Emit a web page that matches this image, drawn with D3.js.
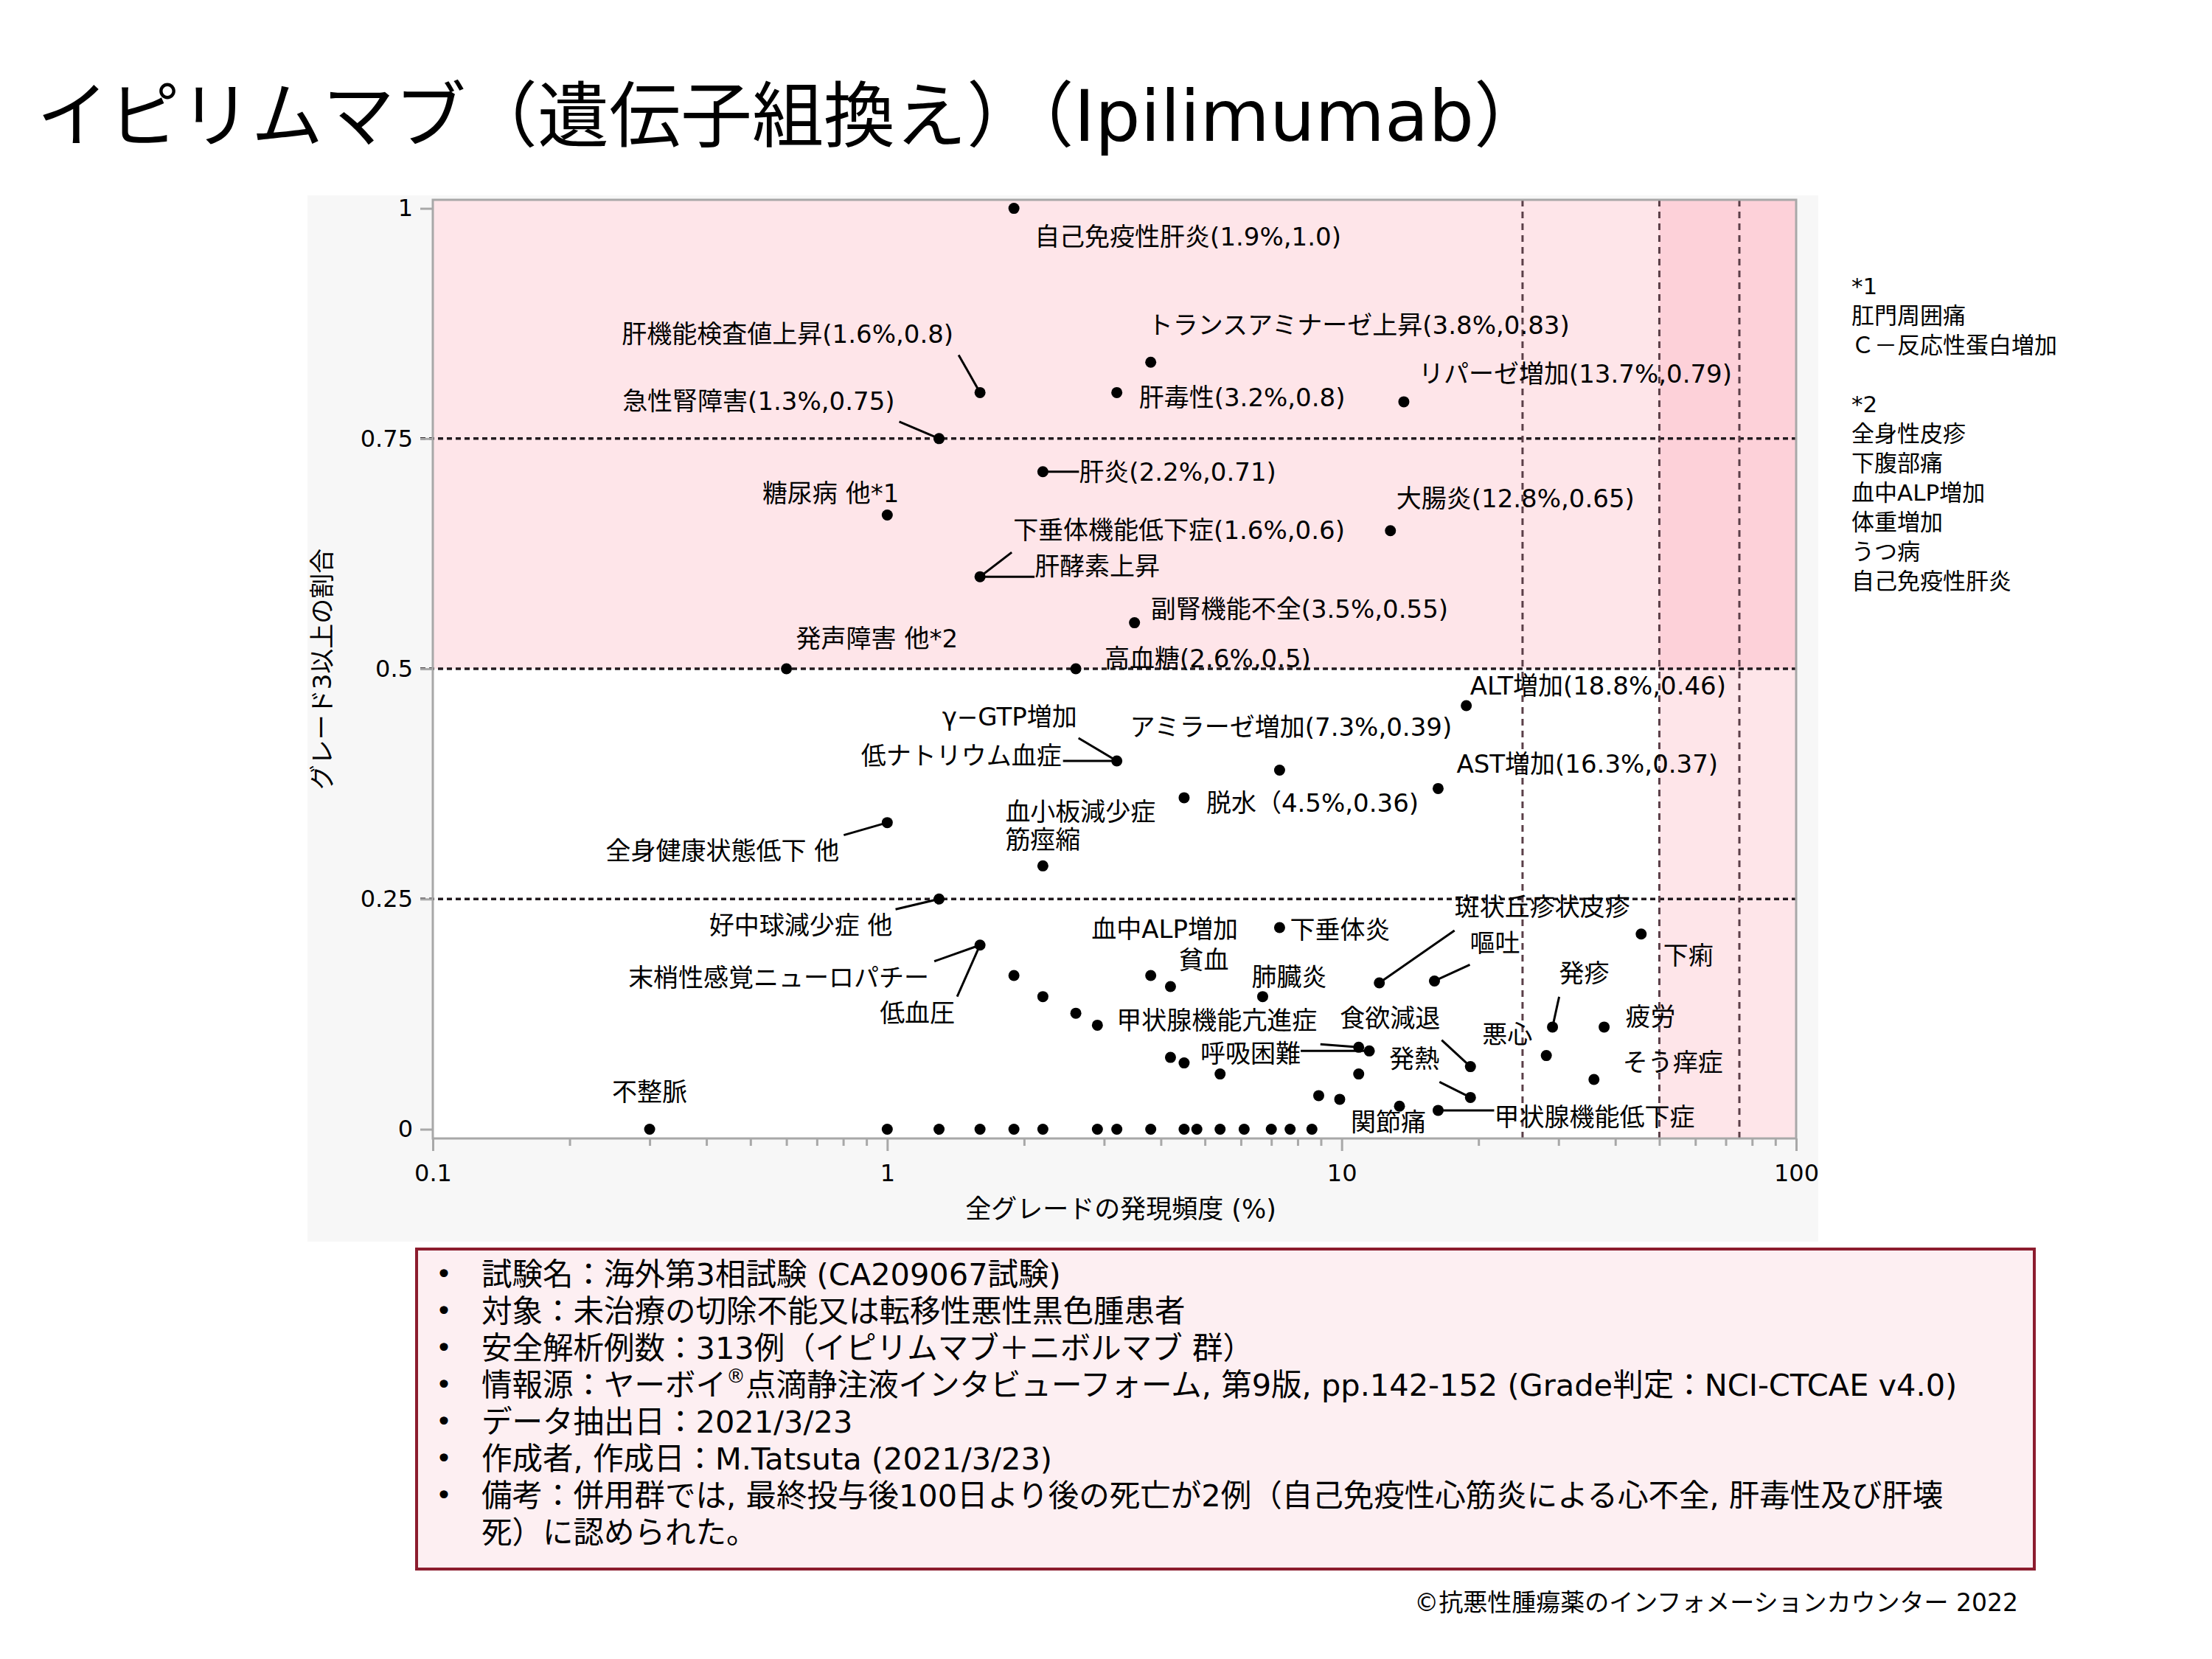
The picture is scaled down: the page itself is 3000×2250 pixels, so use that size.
<!DOCTYPE html>
<html>
<head>
<meta charset="utf-8">
<script src="https://cdn.jsdelivr.net/npm/d3@7"></script>
<style>
body { margin: 0; background: #fff; }
text { font-family: "DejaVu Sans", "Noto Sans CJK JP", sans-serif; fill: #000; }
</style>
</head>
<body>
<svg id="chart" width="3000" height="2250"></svg>
<script>
// ---- data: all-grade incidence (%) and ratio of grade>=3 ----
var incidence = [1.9, 1.6, 1.3, 2.2, 1.0, 1.6, 0.6, 2.6, 3.8, 3.2,
                 13.7, 12.8, 3.5, 18.8, 7.3, 16.3, 4.5, 3.2, 2.2, 1.0,
                 1.3, 1.6, 0.3, 3.8, 7.3, 4.2, 6.7, 12.1, 16.0, 45.6,
                 29.1, 2.9, 19.2, 28.2, 37.8, 11.5, 10.9, 19.2, 35.9, 13.4,
                 16.3, 1.9, 2.2, 2.6, 4.2, 4.5, 5.4, 10.9, 8.9, 9.9];
var g3ratio   = [1.0, 0.8, 0.75, 0.714, 0.667, 0.6, 0.5, 0.5, 0.833, 0.8,
                 0.79, 0.65, 0.55, 0.46, 0.39, 0.37, 0.36, 0.4, 0.286, 0.333,
                 0.25, 0.2, 0, 0.167, 0.219, 0.155, 0.144, 0.159, 0.161, 0.212,
                 0.111, 0.113, 0.068, 0.08, 0.111, 0.085, 0.089, 0.0345, 0.054, 0.025,
                 0.0205, 0.167, 0.144, 0.126, 0.078, 0.072, 0.06, 0.06, 0.0365, 0.0325];
// events with no grade>=3 case
var zeroRowIncidence = [1.0, 1.3, 1.6, 1.9, 2.2, 2.9, 3.2, 3.8, 4.5, 4.8, 5.4, 6.1, 7.0, 7.7, 8.6];

var yTicks = [0, 0.25, 0.5, 0.75, 1];
var xTicks = [0.1, 1, 10, 100];
var refY = [0.25, 0.5, 0.75];
var refX = [25, 50, 75];

var title = "イピリムマブ（遺伝子組換え）（Ipilimumab）";
var xTitle = "全グレードの発現頻度 (%)";
var yTitle = "グレード3以上の割合";
var footNotes = ["*1", "肛門周囲痛", "Ｃ－反応性蛋白増加", "", "*2", "全身性皮疹", "下腹部痛",
                 "血中ALP増加", "体重増加", "うつ病", "自己免疫性肝炎"];
var infoLines = ["試験名：海外第3相試験 (CA209067試験)",
                 "対象：未治療の切除不能又は転移性悪性黒色腫患者",
                 "安全解析例数：313例（イピリムマブ＋ニボルマブ 群）",
                 "情報源：ヤーボイ®点滴静注液インタビューフォーム, 第9版, pp.142-152 (Grade判定：NCI-CTCAE v4.0)",
                 "データ抽出日：2021/3/23",
                 "作成者, 作成日：M.Tatsuta (2021/3/23)",
                 "備考：併用群では, 最終投与後100日より後の死亡が2例（自己免疫性心筋炎による心不全, 肝毒性及び肝壊",
                 "死）に認められた。"];
var copyright = "©抗悪性腫瘍薬のインフォメーションカウンター 2022";

// label layout: p = point index, dx/dy offset from point (px), a = anchor, l = leader start
var labels = [
    {t: "自己免疫性肝炎(1.9%,1.0)", p: 0, dx: 28, dy: 38, a: "start"},
    {t: "肝機能検査値上昇(1.6%,0.8)", p: 1, dx: -36, dy: -79, a: "end", l: [-29, -51]},
    {t: "急性腎障害(1.3%,0.75)", p: 2, dx: -60, dy: -51, a: "end", l: [-54, -23]},
    {t: "肝炎(2.2%,0.71)", p: 3, dx: 49, dy: 0, a: "start", l: [49, 0]},
    {t: "糖尿病 他*1", p: 4, dx: 16, dy: -29, a: "end"},
    {t: "下垂体機能低下症(1.6%,0.6)", p: 5, dx: 45, dy: -63, a: "start", l: [43, -33]},
    {t: "肝酵素上昇", p: 5, dx: 74, dy: -14, a: "start", l: [74, 0]},
    {t: "発声障害 他*2", p: 6, dx: 13, dy: -41, a: "start"},
    {t: "高血糖(2.6%,0.5)", p: 7, dx: 39, dy: -14, a: "start"},
    {t: "トランスアミナーゼ上昇(3.8%,0.83)", p: 8, dx: -4, dy: -50, a: "start"},
    {t: "肝毒性(3.2%,0.8)", p: 9, dx: 30, dy: 7, a: "start"},
    {t: "リパーゼ増加(13.7%,0.79)", p: 10, dx: 20, dy: -38, a: "start"},
    {t: "大腸炎(12.8%,0.65)", p: 11, dx: 8, dy: -44, a: "start"},
    {t: "副腎機能不全(3.5%,0.55)", p: 12, dx: 22, dy: -19, a: "start"},
    {t: "ALT増加(18.8%,0.46)", p: 13, dx: 5, dy: -27, a: "start"},
    {t: "アミラーゼ増加(7.3%,0.39)", p: 14, dx: -203, dy: -58, a: "start"},
    {t: "AST増加(16.3%,0.37)", p: 15, dx: 25, dy: -33, a: "start"},
    {t: "脱水（4.5%,0.36)", p: 16, dx: 30, dy: 7, a: "start"},
    {t: "γ−GTP増加", p: 17, dx: -54, dy: -60, a: "end", l: [-52, -31]},
    {t: "低ナトリウム血症", p: 17, dx: -75, dy: -7, a: "end", l: [-73, 0]},
    {t: "血小板減少症", p: 18, dx: -51, dy: -73, a: "start"},
    {t: "筋痙縮", p: 18, dx: -51, dy: -35, a: "start"},
    {t: "全身健康状態低下 他", p: 19, dx: -65, dy: 38, a: "end", l: [-59, 17]},
    {t: "好中球減少症 他", p: 20, dx: -63, dy: 36, a: "end", l: [-59, 14]},
    {t: "末梢性感覚ニューロパチー", p: 21, dx: -69, dy: 44, a: "end", l: [-62, 22]},
    {t: "低血圧", p: 21, dx: -34, dy: 92, a: "end", l: [-31, 70]},
    {t: "不整脈", p: 22, dx: 0, dy: -51, a: "middle"},
    {t: "血中ALP増加", p: 23, dx: 19, dy: -63, a: "middle"},
    {t: "下垂体炎", p: 24, dx: 14, dy: 3, a: "start"},
    {t: "貧血", p: 25, dx: 45, dy: -36, a: "middle"},
    {t: "肺臓炎", p: 26, dx: 36, dy: -27, a: "middle"},
    {t: "斑状丘疹状皮疹", p: 27, dx: 102, dy: -103, a: "start", l: [102, -71]},
    {t: "嘔吐", p: 28, dx: 48, dy: -51, a: "start", l: [48, -22]},
    {t: "下痢", p: 29, dx: 30, dy: 29, a: "start"},
    {t: "発疹", p: 30, dx: 9, dy: -73, a: "start", l: [9, -41]},
    {t: "甲状腺機能亢進症", p: 31, dx: 26, dy: -6, a: "start"},
    {t: "食欲減退", p: 32, dx: -109, dy: -66, a: "middle", l: [-39, -36]},
    {t: "悪心", p: 33, dx: -19, dy: -29, a: "end"},
    {t: "疲労", p: 34, dx: 29, dy: -14, a: "start"},
    {t: "呼吸困難", p: 35, dx: -93, dy: 4, a: "end", l: [-93, 0]},
    {t: "", p: 36, dx: 0, dy: 0, a: "start", l: [-52, -4]},
    {t: "発熱", p: 37, dx: -76, dy: -52, a: "middle", l: [-42, -21]},
    {t: "そう痒症", p: 38, dx: 39, dy: -23, a: "start"},
    {t: "関節痛", p: 39, dx: -15, dy: 22, a: "middle"},
    {t: "甲状腺機能低下症", p: 40, dx: 76, dy: 9, a: "start", l: [76, 0]}
];

var svg = d3.select("#chart");

var plot = { left: 587, right: 2436, top: 271, bottom: 1544 };

var x = d3.scaleLog().domain([0.1, 100]).range([plot.left, plot.right]);
var y = d3.scaleLinear().domain([-0.01, 1.0093]).range([plot.bottom, plot.top]);

// grey panel
svg.append("rect")
    .attr("x", 417).attr("y", 265)
    .attr("width", 2466 - 417).attr("height", 1684 - 265)
    .attr("fill", "#f7f7f7");

svg.append("rect")
    .attr("x", plot.left).attr("y", plot.top)
    .attr("width", plot.right - plot.left).attr("height", plot.bottom - plot.top)
    .attr("fill", "#fff");

// pink zones: grade>=3 ratio >= 0.5, incidence >= 50%
svg.append("rect")
    .attr("x", plot.left).attr("y", plot.top)
    .attr("width", plot.right - plot.left).attr("height", y(0.5) - plot.top)
    .attr("fill", "#fee5e9");
svg.append("rect")
    .attr("x", x(50)).attr("y", y(0.5))
    .attr("width", plot.right - x(50)).attr("height", plot.bottom - y(0.5))
    .attr("fill", "#fee5e9");
svg.append("rect")
    .attr("x", x(50)).attr("y", plot.top)
    .attr("width", plot.right - x(50)).attr("height", y(0.5) - plot.top)
    .attr("fill", "#fdd1d9");

// reference lines
svg.selectAll("line.refy")
    .data(refY)
    .enter().append("line")
    .attr("class", "refy")
    .attr("x1", plot.left - 17).attr("x2", plot.right)
    .attr("y1", function(d) { return y(d); })
    .attr("y2", function(d) { return y(d); })
    .attr("stroke", "#221a1e")
    .attr("stroke-width", 3.5)
    .attr("stroke-dasharray", "7,5");

svg.selectAll("line.refx")
    .data(refX)
    .enter().append("line")
    .attr("class", "refx")
    .attr("x1", function(d) { return x(d); })
    .attr("x2", function(d) { return x(d); })
    .attr("y1", plot.top).attr("y2", plot.bottom)
    .attr("stroke", "#5b3f48")
    .attr("stroke-width", 3)
    .attr("stroke-dasharray", "9,7");

// frame
svg.append("rect")
    .attr("x", plot.left).attr("y", plot.top)
    .attr("width", plot.right - plot.left).attr("height", plot.bottom - plot.top)
    .attr("fill", "none")
    .attr("stroke", "#a8a8a8")
    .attr("stroke-width", 3);

// axes
var yAxis = svg.append("g")
    .attr("transform", "translate(" + plot.left + ",0)")
    .call(d3.axisLeft(y).tickValues(yTicks).tickSize(17).tickPadding(10).tickFormat(d3.format("")));
yAxis.select(".domain").remove();

var xAxis = svg.append("g")
    .attr("transform", "translate(0," + plot.bottom + ")")
    .call(d3.axisBottom(x).tickValues(xTicks).tickSize(17).tickPadding(18).tickFormat(function(d) { return d; }));
xAxis.select(".domain").remove();

var minor = [];
[0.1, 1, 10].forEach(function(dec) {
    for (var k = 2; k <= 9; k++) minor.push(dec * k);
});
var xMinor = svg.append("g")
    .attr("transform", "translate(0," + plot.bottom + ")")
    .call(d3.axisBottom(x).tickValues(minor).tickSize(10).tickFormat(""));
xMinor.select(".domain").remove();

svg.selectAll(".tick line").attr("stroke", "#a8a8a8").attr("stroke-width", 3);
svg.selectAll(".tick text")
    .style("font-size", "32px")
    .style("font-family", "'DejaVu Sans', 'Noto Sans CJK JP', sans-serif")
    .attr("fill", "#000");

// axis titles
svg.append("text")
    .attr("x", 1520).attr("y", 1640)
    .attr("text-anchor", "middle")
    .attr("dominant-baseline", "central")
    .style("font-size", "35px")
    .text(xTitle);

svg.append("text")
    .attr("transform", "translate(437," + ((plot.top + plot.bottom) / 2) + ") rotate(-90)")
    .attr("text-anchor", "middle")
    .attr("dominant-baseline", "central")
    .style("font-size", "34px")
    .text(yTitle);

// leader lines
var lead = labels.filter(function(d) { return d.l; });
svg.selectAll("line.lead")
    .data(lead)
    .enter().append("line")
    .attr("class", "lead")
    .attr("x1", function(d) { return x(incidence[d.p]) + d.l[0]; })
    .attr("y1", function(d) { return y(g3ratio[d.p]) + d.l[1]; })
    .attr("x2", function(d) { return x(incidence[d.p]); })
    .attr("y2", function(d) { return y(g3ratio[d.p]); })
    .attr("stroke", "#000")
    .attr("stroke-width", 3);

// points
var pts = incidence.map(function(v, i) { return [v, g3ratio[i]]; })
    .concat(zeroRowIncidence.map(function(v) { return [v, 0]; }));

svg.selectAll("circle.pt")
    .data(pts)
    .enter().append("circle")
    .attr("class", "pt")
    .attr("cx", function(d) { return x(d[0]); })
    .attr("cy", function(d) { return y(d[1]); })
    .attr("r", 7.5)
    .attr("fill", "#000");

// point labels
svg.selectAll("text.lab")
    .data(labels.filter(function(d) { return d.t; }))
    .enter().append("text")
    .attr("class", "lab")
    .attr("x", function(d) { return x(incidence[d.p]) + d.dx; })
    .attr("y", function(d) { return y(g3ratio[d.p]) + d.dy; })
    .attr("text-anchor", function(d) { return d.a; })
    .attr("dominant-baseline", "central")
    .style("font-size", "34px")
    .text(function(d) { return d.t; });

// title
svg.append("text")
    .attr("x", 50).attr("y", 157)
    .attr("dominant-baseline", "central")
    .style("font-size", "97px")
    .text(title);

// footnotes on the right
svg.selectAll("text.fn")
    .data(footNotes)
    .enter().append("text")
    .attr("class", "fn")
    .attr("x", 2511)
    .attr("y", function(d, i) { return 388 + i * 40; })
    .attr("dominant-baseline", "central")
    .style("font-size", "31px")
    .text(function(d) { return d; });

// info box
svg.append("rect")
    .attr("x", 565).attr("y", 1694)
    .attr("width", 2759 - 565).attr("height", 2128 - 1694)
    .attr("fill", "#fdeff2")
    .attr("stroke", "#8c1c2e")
    .attr("stroke-width", 4);

var info = svg.selectAll("g.info")
    .data(infoLines)
    .enter().append("g")
    .attr("class", "info")
    .attr("transform", function(d, i) { return "translate(0," + (1728 + i * 50) + ")"; });

info.filter(function(d, i) { return i < infoLines.length - 1; })
    .append("text")
    .attr("x", 602)
    .attr("text-anchor", "middle")
    .attr("dominant-baseline", "central")
    .style("font-size", "38px")
    .text("•");

var infoText = info.append("text")
    .attr("x", 653)
    .attr("dominant-baseline", "central")
    .style("font-size", "41.5px");

// ® drawn small and raised
infoText.each(function(d) {
    var parts = d.split("®");
    var t = d3.select(this);
    parts.forEach(function(s, k) {
        if (k > 0) {
            t.append("tspan").attr("dy", -12).style("font-size", "26px").text("®");
            t.append("tspan").attr("dy", 12).text(s);
        } else {
            t.append("tspan").text(s);
        }
    });
});

svg.append("text")
    .attr("x", 2737).attr("y", 2173)
    .attr("text-anchor", "end")
    .attr("dominant-baseline", "central")
    .style("font-size", "33px")
    .text(copyright);
</script>
</body>
</html>
